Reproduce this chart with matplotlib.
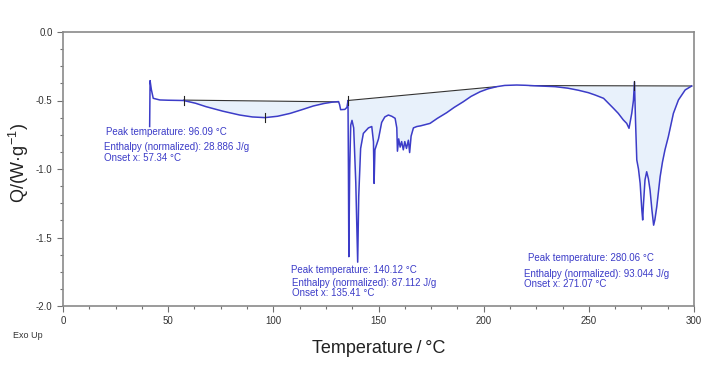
import matplotlib
matplotlib.use("Agg")
import matplotlib.pyplot as plt
from matplotlib.ticker import MultipleLocator, AutoMinorLocator, FormatStrFormatter
import numpy as np

plt.rcParams['font.family'] = ['Liberation Sans', 'DejaVu Sans']
plt.rcParams['axes.unicode_minus'] = False
plt.rcParams['mathtext.fontset'] = 'custom'
plt.rcParams['mathtext.rm'] = 'Liberation Sans'
plt.rcParams['mathtext.it'] = 'Liberation Sans:italic'

# DSC curve (temperature in °C, heat flow in W/g)
temp = [41.2, 41.4, 42.0, 42.9, 46, 50, 57.3, 63, 68, 76, 84, 90, 96, 102, 108, 114, 119, 124, 128, 131,
        131.5, 132, 134, 135, 135.5, 135.7, 135.9, 136.3, 136.8, 137.4, 138.2, 139.2, 140.1, 140.6, 141.5,
        142.8, 145.2, 146.8, 147.6, 147.9, 148.3, 150.0, 151.5, 153, 154.7, 156.3, 157.9, 158.7, 159.0,
        159.6, 160.3, 161.0, 161.8, 162.5, 163.3, 164.2, 164.8, 165.5, 166.6, 168.2, 170, 174.5, 178,
        182.4, 186, 190.3, 194, 198.3, 202, 206.2, 210, 215.7, 220, 223.6, 228, 234, 240, 245, 249.8,
        253, 257, 261.7, 264, 266.4, 268, 269.1, 270.4, 271.2, 271.7, 272.2, 272.8, 273.6, 274.4, 275.2,
        275.6, 276.0, 276.7, 277.5, 278.3, 279.1, 280.0, 280.8, 281.4, 282.3, 283.9, 285.0, 286.2,
        287.8, 290.2, 292.6, 295.8, 298.9]
heat = [-0.69, -0.355, -0.42, -0.484, -0.496, -0.498, -0.50, -0.52, -0.545, -0.578, -0.606, -0.62, -0.625,
        -0.615, -0.594, -0.565, -0.54, -0.522, -0.512, -0.508,
        -0.53, -0.567, -0.565, -0.55, -0.50, -1.0, -1.64, -1.0, -0.68, -0.645, -0.70, -1.1, -1.68, -1.2,
        -0.85, -0.74, -0.70, -0.69, -0.80, -1.105, -0.86, -0.78, -0.66, -0.62, -0.606, -0.615, -0.63,
        -0.70, -0.87, -0.78, -0.84, -0.80, -0.86, -0.80, -0.85, -0.79, -0.88, -0.76, -0.70, -0.69,
        -0.685, -0.667, -0.63, -0.589, -0.55, -0.509, -0.47, -0.436, -0.415, -0.399, -0.39, -0.387,
        -0.389, -0.392, -0.395, -0.399, -0.41, -0.425, -0.443, -0.46, -0.484, -0.557, -0.594, -0.642,
        -0.667, -0.703, -0.594, -0.50, -0.363, -0.65, -0.934, -1.0, -1.105, -1.30, -1.372, -1.25,
        -1.08, -1.02, -1.07, -1.153, -1.30, -1.41, -1.37, -1.275, -1.056, -0.95, -0.86, -0.764,
        -0.594, -0.496, -0.423, -0.394]

# integration baselines (start, end) for the three peaks
base_x = [(57.3, 131.0), (135.4, 206.0), (222.0, 298.9)]
base_y = [(-0.497, -0.510), (-0.500, -0.399), (-0.391, -0.394)]

# evaluated marker positions
marker_x = [57.3, 96.09, 135.5, 271.6]
marker_y = [-0.50, -0.625, -0.50, -0.39]

annotations = [
    ["Peak temperature: 96.09 °C", "Enthalpy (normalized): 28.886 J/g", "Onset x: 57.34 °C"],
    ["Peak temperature: 140.12 °C", "Enthalpy (normalized): 87.112 J/g", "Onset x: 135.41 °C"],
    ["Peak temperature: 280.06 °C", "Enthalpy (normalized): 93.044 J/g", "Onset x: 271.07 °C"],
]
ann_x = [(20.4, 19.5, 19.5), (108.4, 109.0, 109.0), (221.0, 219.2, 219.2)]
ann_y = [(-0.730, -0.839, -0.920), (-1.737, -1.834, -1.905), (-1.648, -1.768, -1.841)]

fig = plt.figure(figsize=(7.15, 3.70), dpi=100)
ax = fig.add_axes([63/715, 1-306/370, (694-63)/715, (306-32)/370])

t = np.array(temp)
h = np.array(heat)
for (x0, x1), (y0, y1) in zip(base_x, base_y):
    m = (t >= x0) & (t <= x1)
    tx = np.concatenate([[x0], t[m], [x1]])
    hy = np.concatenate([[np.interp(x0, t, h)], h[m], [np.interp(x1, t, h)]])
    by = y0 + (tx - x0) * (y1 - y0) / (x1 - x0)
    ax.fill_between(tx, hy, by, color='#e8f1fb', lw=0, zorder=1)
    ax.plot([x0, x1], [y0, y1], color='#333333', lw=0.8, zorder=3)

ax.plot(t, h, color='#3c3cc8', lw=1.1, zorder=4)
for mx, my in zip(marker_x, marker_y):
    ax.plot([mx, mx], [my + 0.035, my - 0.035], color='#222222', lw=0.8, zorder=5)

for texts, xs, ys in zip(annotations, ann_x, ann_y):
    for s, x, y in zip(texts, xs, ys):
        ax.text(x, y, s, color='#3c3cc8', fontsize=7.0, ha='left', va='center', zorder=6)

ax.set_xlim(0, 300)
ax.set_ylim(-2.0, 0.0)
ax.xaxis.set_major_locator(MultipleLocator(50))
ax.yaxis.set_major_locator(MultipleLocator(0.5))
ax.xaxis.set_minor_locator(AutoMinorLocator(4))
ax.yaxis.set_minor_locator(AutoMinorLocator(4))
ax.yaxis.set_major_formatter(FormatStrFormatter('%.1f'))
ax.tick_params(which='both', direction='out', colors='#707070', labelcolor='#333333', labelsize=7, width=0.8)
ax.tick_params(which='major', length=4)
ax.tick_params(which='minor', length=2.5)
for sp in ax.spines.values():
    sp.set_color('#8a8a8a')
    sp.set_linewidth(1.2)

ax.set_xlabel('Temperature\u2009/\u2009°C', fontsize=13, color='#222222', labelpad=10)
ax.set_ylabel(r'Q/(W·g$^{-1}$)', fontsize=13, color='#222222')
ax.yaxis.set_label_coords(-0.05, 0.52)
fig.text(13/715, 1-336/370, 'Exo Up', fontsize=6.5, color='#333333', ha='left', va='center')

fig.savefig('out.png', dpi=100)
